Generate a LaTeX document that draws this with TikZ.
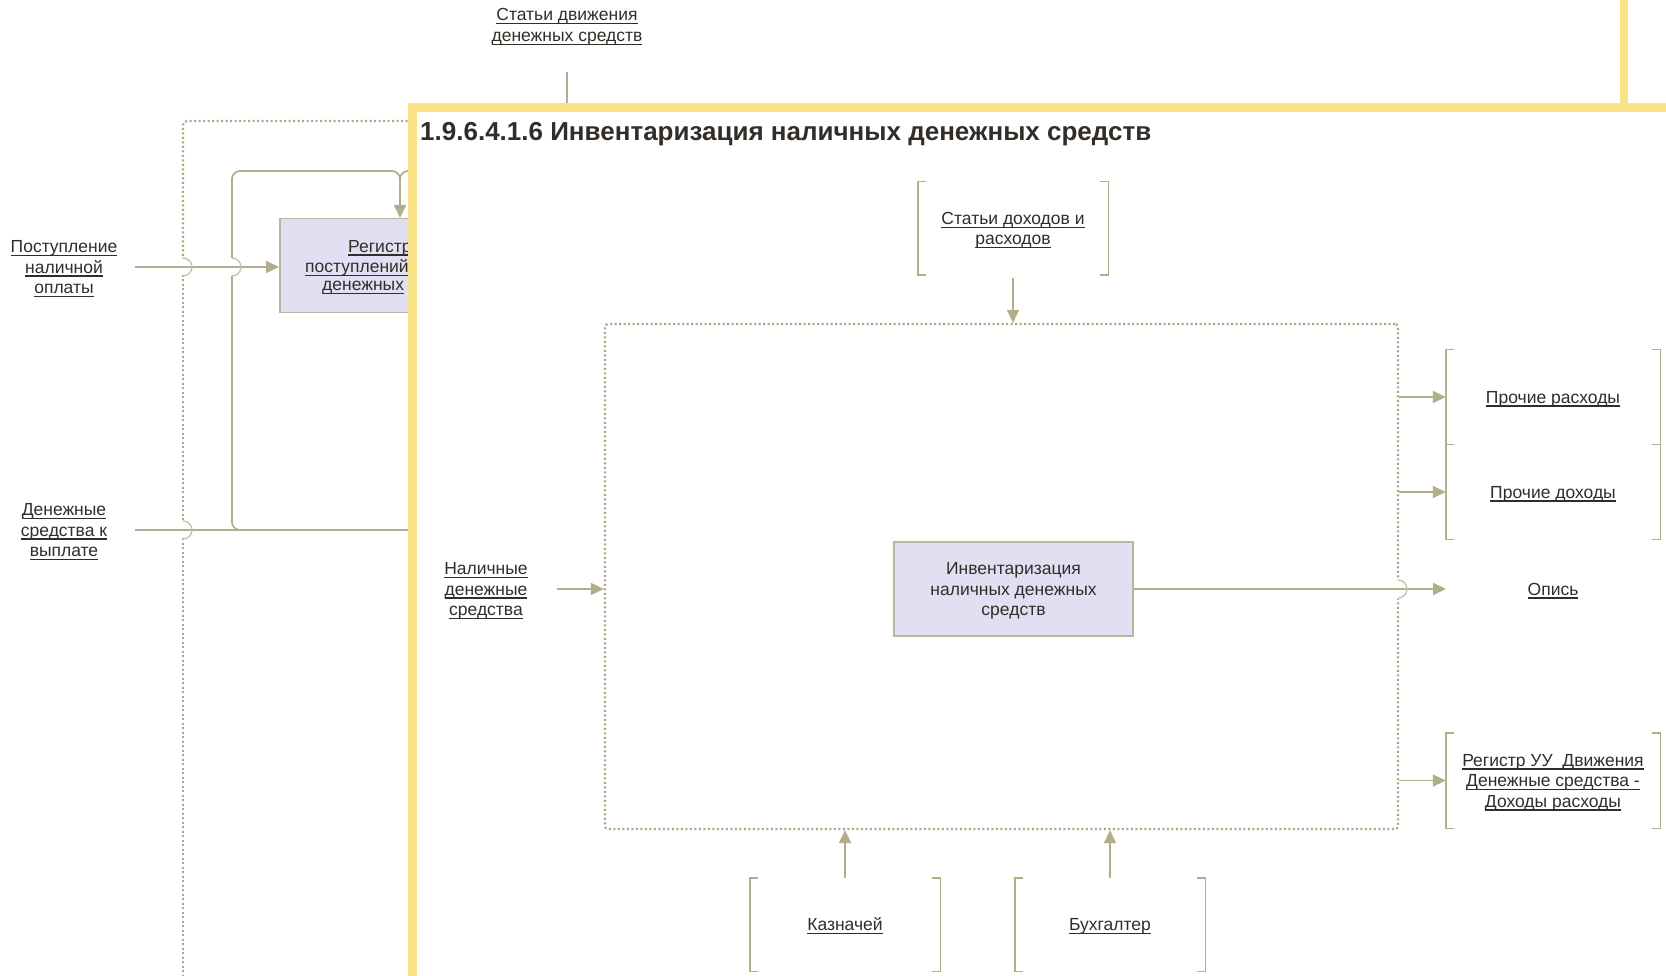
\documentclass[tikz,border=0pt]{standalone}
\usepackage{fontspec}
\setmainfont{Liberation Sans}
\usetikzlibrary{arrows.meta, positioning, calc}

\definecolor{lineclr}{RGB}{178,173,138}
\definecolor{dotclr}{RGB}{172,167,130}
\definecolor{hopclr}{RGB}{200,196,170}
\definecolor{boxfill}{RGB}{224,224,242}
\definecolor{boxline}{RGB}{184,182,160}
\definecolor{frameclr}{RGB}{249,227,134}
\definecolor{txtclr}{RGB}{50,45,40}

\newcommand{\lnk}[1]{\setbox0=\hbox{#1}\rlap{\rule[-3.5pt]{\wd0}{1.2pt}}\box0}
\newcommand{\brackets}[1]{%
  \draw[brk] ($(#1.north west)+(8,0)$) -- (#1.north west) -- (#1.south west) -- ($(#1.south west)+(8,0)$);
  \draw[brk] ($(#1.north east)+(-8,0)$) -- (#1.north east) -- (#1.south east) -- ($(#1.south east)+(-8,0)$);}

\tikzstyle{linktext} = [text=txtclr, align=center, inner sep=0pt, text depth=0pt, font=\fontsize{17.5}{20.5}\selectfont]
\tikzstyle{block} = [rectangle, draw=boxline, line width=1.5pt, fill=boxfill, text=txtclr, align=center, text depth=0pt, font=\fontsize{17.5}{20.5}\selectfont]
\tikzstyle{bracketbox} = [linktext, minimum width=190pt, minimum height=93pt]
\tikzstyle{outbox} = [linktext, minimum width=214pt, minimum height=95pt]
\tikzstyle{wire} = [draw=lineclr, line width=1.7pt]
\tikzstyle{conn} = [wire, -{Triangle[length=13pt, width=12pt]}]
\tikzstyle{dotbox} = [draw=dotclr, line width=2.2pt, dash pattern=on 2pt off 2.5pt]
\tikzstyle{brk} = [draw=lineclr, line width=1.4pt]
\tikzstyle{hop} = [draw=hopclr, line width=1.4pt]

\begin{document}
\begin{tikzpicture}[x=1pt, y=-1pt]
        \useasboundingbox (0,0) rectangle (1666,976);
        \clip (0,0) rectangle (1666,976);

        % Back frame edge
        \draw[frameclr, line width=8pt] (1624,-10) -- (1624,108);

        % Left Side: parent diagram
        \node[linktext] (sdds_lbl) at (567,25) {\lnk{Статьи движения}\\\lnk{денежных средств}};
        \coordinate (sdds_end) at (567,112);
        \draw[wire] ($(sdds_lbl.south)+(0,30)$) -- (sdds_end);

        \draw[dotbox, rounded corners=4] (430,121) -- (183,121) -- (183,259);
        \draw[dotbox] (183,275) -- (183,522);
        \draw[dotbox] (183,538) -- (183,990);

        \node[block, anchor=north west, minimum width=238, minimum height=94] (reg_in) at (279,218) {};
        \node[linktext, anchor=west] (reg_t1) at (348,246) {\lnk{Регистр}};
        \node[linktext, anchor=west] (reg_t2) at (305,266) {\lnk{поступлений}};
        \node[linktext, anchor=west] (reg_t3) at (322,286) {\lnk{денежных}};

        \node[linktext] (post_lbl) at (64,267) {\lnk{Поступление}\\\lnk{наличной}\\\lnk{оплаты}};
        \coordinate (post_start) at (135,267);
        \draw[conn] (post_start) -- (post_start -| reg_in.west);

        \node[linktext] (den_lbl) at (64,530) {\lnk{Денежные}\\\lnk{средства к}\\\lnk{выплате}};
        \coordinate (den_start) at (135,530);
        \coordinate (den_end) at (430,530);
        \draw[wire] (den_start) -- (den_end);

        \draw[wire, rounded corners=8] (260,530) -- (232,530) -- (232,276);
        \draw[hop] (232,276) arc[start angle=-90, end angle=90, radius=9pt];
        \draw[conn, rounded corners=8] (232,258) -- (232,171) -- (400,171) -- ($(reg_in.north west)+(121,0)$);
        \draw[wire, rounded corners=8] (430,171) -- (400,171) -- (400,195);

        \draw[hop] (183,258) arc[start angle=90, end angle=-90, radius=9pt];
        \draw[hop] (183,521) arc[start angle=90, end angle=-90, radius=9pt];

        % Front frame
        \draw[frameclr, line width=9pt, fill=white] (412.5,108) rectangle (1700,1010);
        \node[anchor=base west, inner sep=0pt, text=txtclr, font=\bfseries\fontsize{26}{30}\selectfont] (title_lbl) at (420,141) {1.9.6.4.1.6 Инвентаризация наличных денежных средств};

        \node[dotbox, rounded corners=3, minimum width=793, minimum height=505] (ctx_box) at (1001.5,576.5) {};
        \node[block, minimum width=239, minimum height=94] (func) at (1013.5,589) {Инвентаризация\\наличных денежных\\средств};

        % Control
        \node[bracketbox] (ctrl) at (1013,228.5) {\lnk{Статьи доходов и}\\\lnk{расходов}};
        \brackets{ctrl}
        \draw[conn] ($(ctrl.south)+(0,3)$) -- (ctrl.south |- ctx_box.north);

        % Input
        \node[linktext] (in_lbl) at (486,589) {\lnk{Наличные}\\\lnk{денежные}\\\lnk{средства}};
        \coordinate (in_start) at (557,589);
        \draw[conn] (in_start) -- (in_start -| ctx_box.west);

        % Outputs
        \node[outbox] (rash) at (1553,397) {\lnk{Прочие расходы}};
        \node[outbox] (doh) at (1553,492) {\lnk{Прочие доходы}};
        \node[linktext] (opis) at (1553,589) {\lnk{Опись}};
        \node[outbox] (reg_out) at (1553,780.5) {\lnk{Регистр УУ~ Движения}\\\lnk{Денежные средства -}\\\lnk{Доходы расходы}};
        \brackets{rash}
        \brackets{doh}
        \brackets{reg_out}
        \draw[conn] (ctx_box.east |- rash.west) -- (rash.west);
        \draw[conn] (ctx_box.east |- doh.west) -- (doh.west);
        \draw[conn] (ctx_box.east |- reg_out.west) -- (reg_out.west);

        \coordinate (opis_in) at (1446,589);
        \fill[white] (1394,579) rectangle (1402,599);
        \draw[conn] (func.east) -- (opis_in);
        \draw[hop] (1398,580) arc[start angle=90, end angle=-90, radius=9pt];

        % Mechanisms
        \node[bracketbox] (kazn) at (845,924.5) {\lnk{Казначей}};
        \node[bracketbox] (buh) at (1110,924.5) {\lnk{Бухгалтер}};
        \brackets{kazn}
        \brackets{buh}
        \draw[conn] (kazn.north) -- (kazn.north |- ctx_box.south);
        \draw[conn] (buh.north) -- (buh.north |- ctx_box.south);
    \end{tikzpicture}
\end{document}
